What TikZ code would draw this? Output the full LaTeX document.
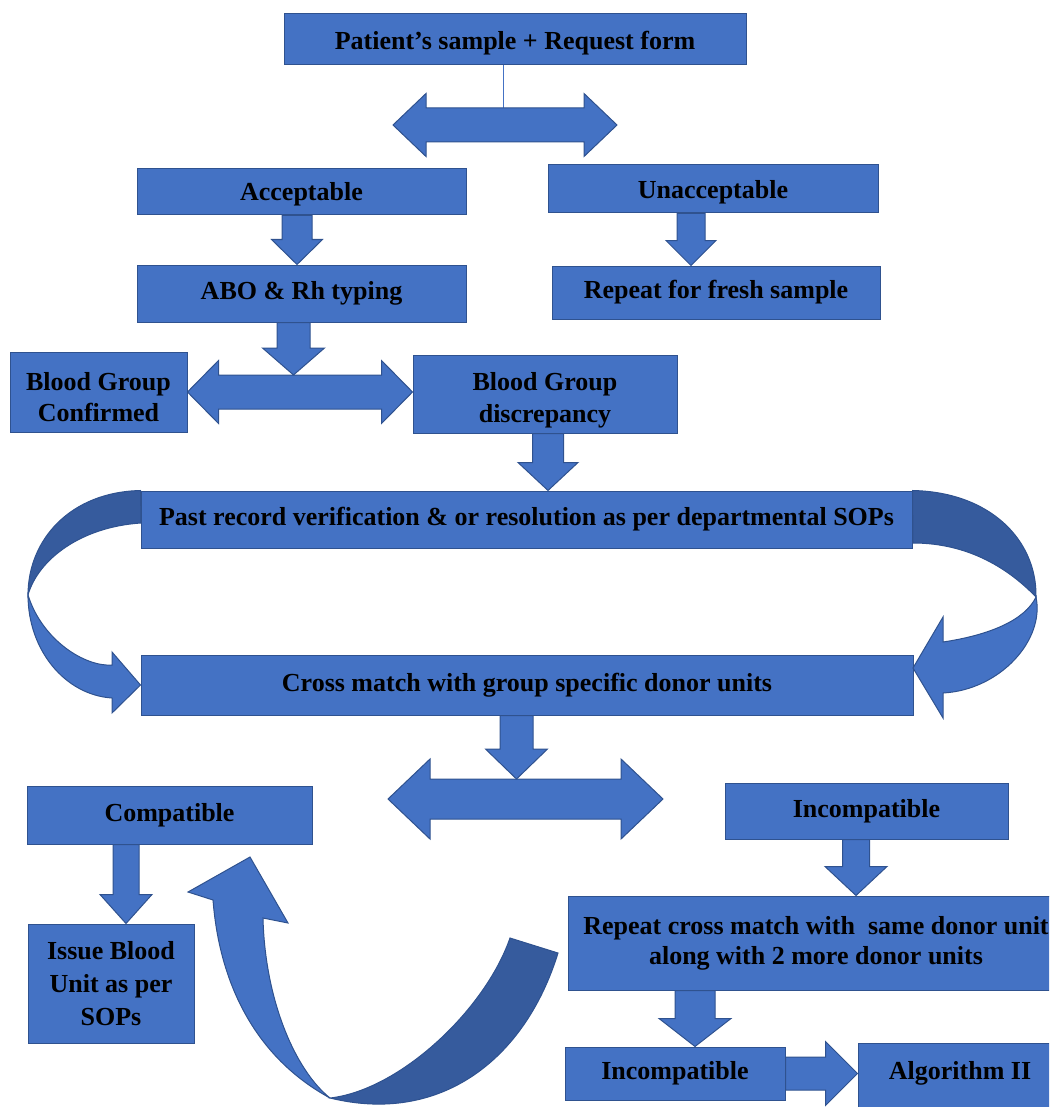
\documentclass[tikz,border=0pt]{standalone}
\usepackage{fontspec}
\setmainfont{Liberation Serif}
\usetikzlibrary{calc}

\definecolor{boxfill}{HTML}{4472C4}
\definecolor{boxline}{HTML}{2F528F}
\definecolor{boxdark}{HTML}{365B9D}

\tikzset{
  box/.style={draw=boxline, fill=boxfill, line width=1pt, inner sep=0pt, align=center,
    font=\fontsize{26}{30}\selectfont\bfseries},
  lowtext/.style={text height=#1, text depth=0pt},
  blockarrow/.style={draw=boxline, fill=boxfill, line width=1pt},
  backside/.style={draw=boxline, fill=boxdark, line width=1pt},
}

% block arrow pointing down: x, from, to, half shaft, half head, head length
\newcommand{\blockdown}[6]{%
  \coordinate (top) at (#1,0 |- #2);
  \coordinate (tip) at (#1,0 |- #3);
  \filldraw[blockarrow] ($(top)+(-#4,0)$) -- ($(top)+(#4,0)$) -- ($(tip)+(#4,-#6)$)
    -- ($(tip)+(#5,-#6)$) -- (tip) -- ($(tip)+(-#5,-#6)$) -- ($(tip)+(-#4,-#6)$) -- cycle;}
% block arrow pointing right: from, tip, half shaft, half head, head length
\newcommand{\blockright}[5]{%
  \filldraw[blockarrow] ($#1+(0,-#3)$) -- ($#2+(-#5,-#3)$) -- ($#2+(-#5,-#4)$) -- #2
    -- ($#2+(-#5,#4)$) -- ($#2+(-#5,#3)$) -- ($#1+(0,#3)$) -- cycle;}
% left-right block arrow: left tip, right tip, half shaft, half head, head length
\newcommand{\blockboth}[5]{%
  \filldraw[blockarrow] #1 -- ($#1+(#5,-#4)$) -- ($#1+(#5,-#3)$) -- ($#2+(-#5,-#3)$)
    -- ($#2+(-#5,-#4)$) -- #2 -- ($#2+(-#5,#4)$) -- ($#2+(-#5,#3)$)
    -- ($#1+(#5,#3)$) -- ($#1+(#5,#4)$) -- cycle;}

\begin{document}
\begin{tikzpicture}[x=1pt, y=-1pt]
\useasboundingbox (0,0) rectangle (1049,1107);
\clip (0,0) rectangle (1049,1107);
% Boxes
\node[box, lowtext=21pt, minimum width=462, minimum height=51] (patient) at (515,39.5) {Patient’s sample + Request form};
\node[box, lowtext=17.5pt, minimum width=329, minimum height=46] (acc) at (301.5,192) {Acceptable};
\node[box, lowtext=20pt, minimum width=330, minimum height=48] (unacc) at (713,189) {Unacceptable};
\node[box, minimum width=329, minimum height=57] (abo) at (301.5,293.5) {ABO \& Rh typing};
\node[box, minimum width=328, minimum height=53] (fresh) at (716,292.5) {Repeat for fresh sample};
\node[box, minimum width=177, minimum height=80, font=\fontsize{26}{31}\selectfont\bfseries] (conf) at (98.5,392) {\rule{0pt}{28pt}Blood Group\\Confirmed};
\node[box, minimum width=264, minimum height=78, font=\fontsize{26}{32}\selectfont\bfseries] (disc) at (545,394) {\rule{0pt}{30pt}Blood Group\\discrepancy};
\node[box, minimum width=771, minimum height=57] (past) at (526.5,519.5) {Past record verification \& or resolution as per departmental SOPs};
\node[box, minimum width=772, minimum height=60] (cross) at (527,685) {Cross match with group specific donor units};
\node[box, minimum width=285, minimum height=58] (compat) at (169.5,815) {Compatible};
\node[box, minimum width=283, minimum height=56] (incompat) at (866.5,811) {Incompatible};
\node[box, minimum width=166, minimum height=119, font=\fontsize{26}{33}\selectfont\bfseries] (issue) at (111,983.5) {Issue Blood\\Unit as per\\SOPs};
\node[box, minimum width=496, minimum height=94] (recross) at (816,943) {Repeat cross match with\ \ same donor unit\\along with 2 more donor units};
\node[box, minimum width=220, minimum height=53] (incompat2) at (675,1073.5) {Incompatible};
\node[box, anchor=north, minimum width=204, text height=35.5pt, text depth=45pt] (algo) at (960,1043) {Algorithm II};
% Split arrows
\coordinate (bar1) at (503,108);
\coordinate (bar2) at (293.5,375);
\coordinate (bar3) at (516.5,779);
\coordinate (dtip) at (conf.east -| disc.west);
\draw[boxfill, line width=1pt] (503,0 |- patient.south) -- (bar1);
\blockboth{(393,125)}{(617,125)}{17}{31.5}{33}
\blockboth{(conf.east)}{(dtip)}{17}{31.5}{31}
\blockboth{(388,799)}{(663,799)}{20}{40}{42}
% Arrows down
\blockdown{297}{acc.south}{abo.north}{15}{25.5}{25}
\blockdown{691}{unacc.south}{fresh.north}{14}{25}{25}
\blockdown{293.5}{abo.south}{bar2}{16.5}{31}{27}
\blockdown{548}{disc.south}{past.north}{15.5}{30}{28}
\blockdown{516.5}{cross.south}{bar3}{16.5}{31}{30}
\blockdown{126}{compat.south}{issue.north}{13}{26}{29}
\blockdown{856}{incompat.south}{recross.north}{13.5}{31}{29}
\blockdown{695}{recross.south}{incompat2.north}{20}{36}{28}
% Arrow right
\coordinate (atip) at (incompat2.east -| algo.west);
\blockright{(incompat2.east)}{(atip)}{16.5}{32}{32}
% Curved arrow, left
\coordinate (lturn) at (28,595);
\filldraw[backside] (past.north west) .. controls (70,492) and (28,540) .. (lturn)
  .. controls (38,560) and (80,527) .. (141,523) -- cycle;
\filldraw[blockarrow] (lturn) .. controls (28,650) and (65,695) .. (112,698) -- (112,713)
  -- (cross.west) -- (112,652) -- (112,665) .. controls (85,667) and (42,640) .. (lturn) -- cycle;
% Curved arrow, right
\coordinate (rturn) at (1036,597);
\filldraw[backside] (past.north east) .. controls (990,492) and (1037,540) .. (rturn)
  .. controls (1010,570) and (970,543) .. (913,543) -- cycle;
\filldraw[blockarrow] (rturn) .. controls (1045,640) and (1000,690) .. (943,693) -- (943,718)
  -- (913,668) -- (943,617) -- (943,642) .. controls (990,635) and (1025,620) .. (rturn) -- cycle;
% Curved arrow, bottom
\coordinate (uturn) at (330,1098);
\filldraw[backside] (510,938) -- (558,953) .. controls (525,1060) and (440,1125) .. (uturn)
  .. controls (400,1090) and (485,1010) .. (510,938) -- cycle;
\filldraw[blockarrow] (uturn) .. controls (260,1060) and (220,990) .. (213,900) -- (188,892)
  -- (250,857) -- (288,923) -- (263,918) .. controls (265,1000) and (295,1070) .. (uturn) -- cycle;
\end{tikzpicture}
\end{document}
